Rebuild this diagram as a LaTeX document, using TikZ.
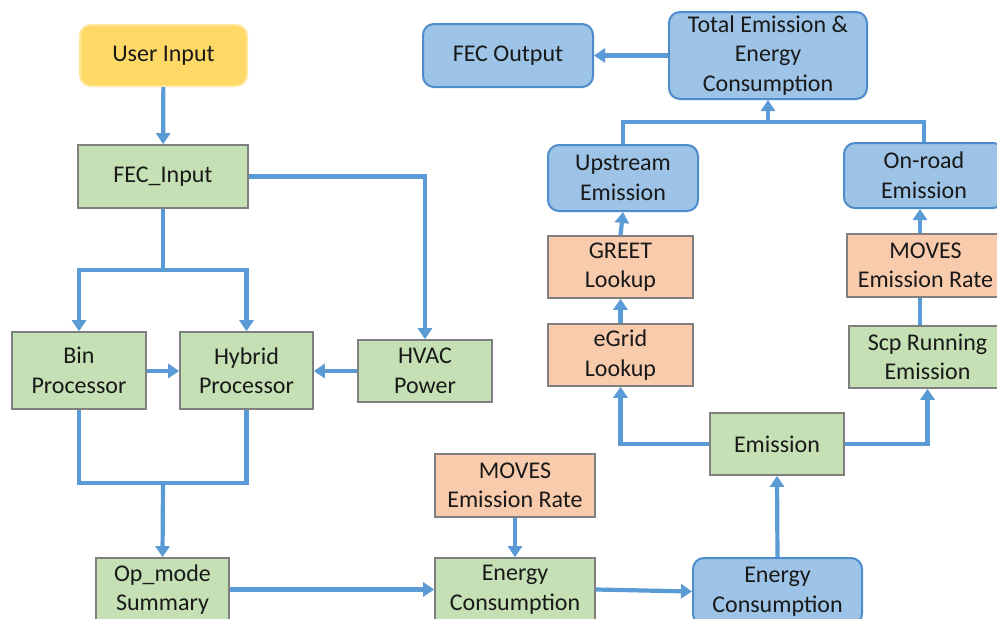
\documentclass[tikz,border=0pt]{standalone}
\usepackage{fontspec}
\setmainfont{Carlito}
\usetikzlibrary{arrows.meta}
\definecolor{lineblue}{HTML}{5B9BD5}
\definecolor{greenfill}{HTML}{C5E0B4}
\definecolor{orangefill}{HTML}{F8CBAD}
\definecolor{bluefill}{HTML}{9DC3E6}
\definecolor{blueborder}{HTML}{4E8CCB}
\definecolor{yellowfill}{HTML}{FFD966}
\definecolor{yellowborder}{HTML}{FFE699}
\definecolor{grayborder}{HTML}{7F7F7F}
\tikzset{
  basebox/.style={line width=1.6pt, inner sep=0pt, align=center, text=black!90,
    font=\fontsize{24}{29.5}\selectfont},
  greenbox/.style={basebox, draw=grayborder, fill=greenfill},
  orangebox/.style={basebox, draw=grayborder, fill=orangefill},
  bluebox/.style={basebox, draw=blueborder, line width=2pt, fill=bluefill, rounded corners=11pt},
  yellowbox/.style={basebox, draw=yellowborder, line width=2pt, fill=yellowfill, rounded corners=11pt},
  conn/.style={draw=lineblue, line width=4.2pt},
  arr/.style={conn, -{Triangle[width=14pt,length=11pt]}}
}
\begin{document}
\begin{tikzpicture}[x=1pt,y=-1pt]
\clip (0,0) rectangle (997,619);
\fill[white] (0,0) rectangle (997,619);

% left column
\node[yellowbox, minimum width=167pt, minimum height=61pt] (user) at (163.5,55.5) {User Input};
\node[greenbox, minimum width=170pt, minimum height=63pt] (fecin) at (163,176.5) {FEC\_Input};
\node[greenbox, minimum width=134pt, minimum height=77pt] (bin) at (79,370.5) {Bin\\Processor};
\node[greenbox, minimum width=133pt, minimum height=77pt] (hybrid) at (246.5,370.5) {Hybrid\\Processor};
\node[greenbox, minimum width=134pt, minimum height=62pt] (hvac) at (425,371) {HVAC\\Power};
\node[greenbox, minimum width=133pt, minimum height=63pt] (opmode) at (162.5,589.5) {Op\_mode\\Summary};

% bottom middle
\node[orangebox, minimum width=160pt, minimum height=63pt] (movesb) at (515,485.5) {MOVES\\Emission Rate};
\node[greenbox, minimum width=160pt, minimum height=63pt] (greenec) at (515,589.5) {Energy\\Consumption};
\node[bluebox, minimum width=169pt, minimum height=67pt] (blueec) at (777.5,591.5) {Energy\\Consumption};
\node[greenbox, minimum width=134pt, minimum height=62pt] (emission) at (777,444) {Emission};

% upstream branch
\node[orangebox, minimum width=145pt, minimum height=62pt] (egrid) at (620.5,355) {eGrid\\Lookup};
\node[orangebox, minimum width=145pt, minimum height=62pt] (greet) at (620.5,267) {GREET\\Lookup};
\node[bluebox, minimum width=150pt, minimum height=66pt] (upstream) at (623,178) {Upstream\\Emission};

% on-road branch
\node[greenbox, minimum width=157pt, minimum height=62pt] (scp) at (927.5,357) {Scp Running\\Emission};
\node[orangebox, minimum width=157pt, minimum height=63pt] (movesr) at (925.5,265.5) {MOVES\\Emission Rate};
\node[bluebox, minimum width=160pt, minimum height=65pt] (onroad) at (924,175.5) {On-road\\Emission};

% top
\node[bluebox, minimum width=198pt, minimum height=87pt] (total) at (768,55.5) {Total Emission \&\\Energy\\Consumption};
\node[bluebox, minimum width=170pt, minimum height=63pt] (fecout) at (508,55.5) {FEC Output};

% helper coordinates
\coordinate (split1) at (163,270);
\coordinate (join1) at (163,483);
\coordinate (join2) at (768,122);
\coordinate (rx) at (920,0);

% connectors left
\draw[arr] (user) -- (fecin);
\draw[conn] (fecin.south) -- (split1);
\draw[arr] (split1) -| (bin.north);
\draw[arr] (split1) -| (hybrid.north);
\draw[arr] (fecin.east) -| (hvac.north);
\draw[arr] (bin.east |- 0,371) -- (hybrid.west |- 0,371);
\draw[arr] (hvac.west) -- (hybrid.east |- hvac.west);
\draw[conn] (bin.south) |- (join1);
\draw[conn] (hybrid.south) |- (join1);
\draw[arr] (join1) -- (opmode.north);

% bottom
\draw[arr] (opmode.east) -- (greenec.west);
\draw[arr] (movesb.south) -- (greenec.north);
\draw[arr] (greenec.east) -- (blueec.west);
\draw[arr] (blueec.north) -- (emission.south);

% emission split
\draw[arr] (emission.west) -| (egrid.south);
\draw[arr] (emission.east) -| (scp.south);
\draw[arr] (egrid.north) -- (greet.south);
\draw[arr] (greet.north) -- (upstream.south);
\draw[conn, line width=3.2pt] (scp.north -| rx) -- (movesr.south -| rx);
\draw[arr] (movesr.north -| rx) -- (onroad.south -| rx);

% top join
\draw[conn] (upstream.north) |- (join2);
\draw[conn] (onroad.north) |- (join2);
\draw[arr] (join2) -- (total.south);
\draw[arr] (total.west) -- (fecout.east);
\end{tikzpicture}
\end{document}
